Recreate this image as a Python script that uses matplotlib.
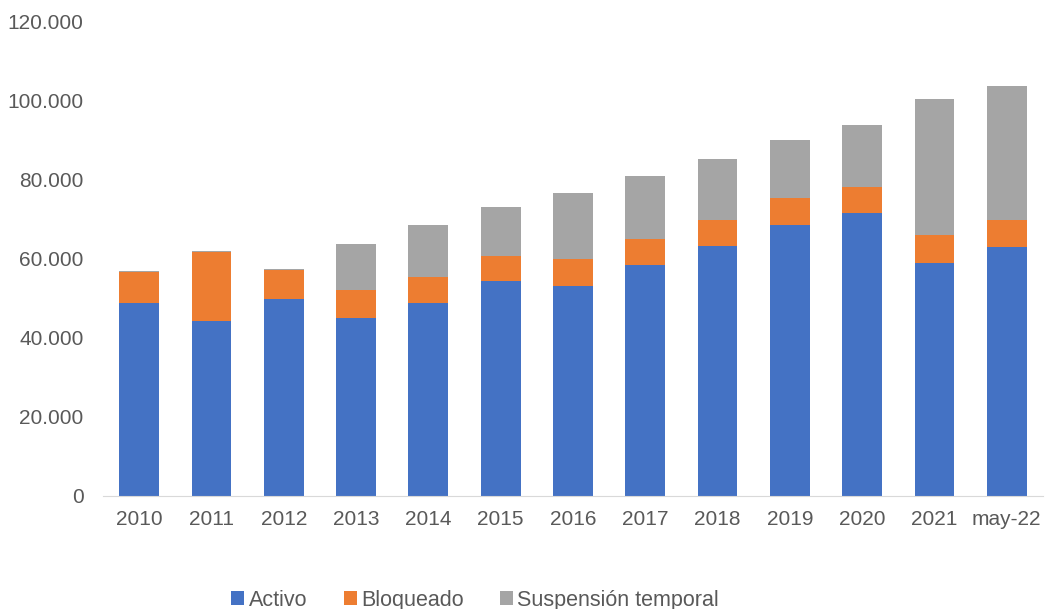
import numpy as np
import matplotlib
matplotlib.use("Agg")
import matplotlib.pyplot as plt
from matplotlib.ticker import FuncFormatter

categories = ["2010", "2011", "2012", "2013", "2014", "2015", "2016",
              "2017", "2018", "2019", "2020", "2021", "may-22"]
activo = [48900, 44400, 49800, 45100, 48900, 54300, 53200,
          58500, 63300, 68700, 71600, 59100, 62900]
bloqueado = [7700, 17400, 7300, 7100, 6600, 6500, 6700,
             6600, 6600, 6700, 6700, 6900, 7000]
suspension = [400, 300, 400, 11600, 13200, 12300, 16700,
              15900, 15300, 14600, 15600, 34500, 33900]

plt.rcParams['font.family'] = ['Liberation Sans', 'DejaVu Sans']
text_color = "#595959"

fig = plt.figure(figsize=(10.45, 6.09), dpi=100)
ax = fig.add_axes([0.0986, 0.1856, 0.8994, 0.7784])

x = np.arange(len(categories))
w = 0.55
a = np.array(activo)
b = np.array(bloqueado)
s = np.array(suspension)
ax.bar(x, a, w, color="#4472C4", label="Activo")
ax.bar(x, b, w, bottom=a, color="#ED7D31", label="Bloqueado")
ax.bar(x, s, w, bottom=a + b, color="#A5A5A5", label="Suspensión temporal")

ax.set_xlim(-0.5, len(categories) - 0.5)
ax.set_ylim(0, 120000)
ax.set_yticks(np.arange(0, 120001, 20000))
ax.yaxis.set_major_formatter(FuncFormatter(lambda v, p: "0" if v == 0 else f"{int(v):,}".replace(",", ".")))
ax.set_xticks(x)
ax.set_xticklabels(categories)

for side in ["top", "right", "left"]:
    ax.spines[side].set_visible(False)
ax.spines["bottom"].set_color("#D9D9D9")
ax.tick_params(axis="both", length=0, labelsize=15, colors=text_color)
ax.tick_params(axis="y", pad=14)
ax.tick_params(axis="x", pad=10)

ax.legend(loc="upper center", bbox_to_anchor=(0.396, -0.157), ncol=3, frameon=False,
          fontsize=15.5, labelcolor=text_color, handlelength=0.6, handleheight=0.6,
          handletextpad=0.2, columnspacing=1.7)

fig.savefig("out.png", dpi=100)
